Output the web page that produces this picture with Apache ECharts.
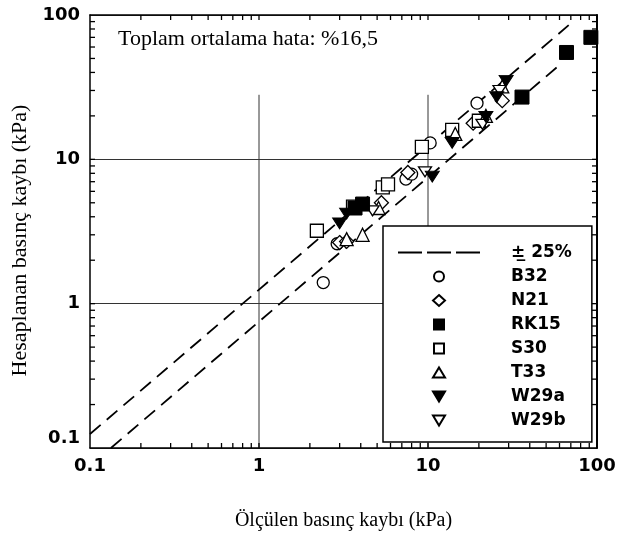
<!DOCTYPE html>
<html><head><meta charset="utf-8">
<script src="https://cdn.jsdelivr.net/npm/echarts@6/dist/echarts.min.js"></script>
<style>html,body{margin:0;padding:0;background:#fff}#c{width:621px;height:545px}</style>
</head><body><div id="c"></div>
<script>
// ---- data (measured kPa, calculated kPa) ----
var B32  = [[2.4,1.4],[2.9,2.6],[7.4,7.3],[8.0,7.9],[10.3,13.0],[19.5,24.5]];
var N21  = [[3.0,2.65],[3.3,2.7],[5.3,5.0],[7.6,8.1],[18.5,17.8],[27.5,25.5]];
var RK15 = [[3.7,4.6],[4.1,4.9],[36,27],[66,55],[92,70]];
var S30  = [[2.2,3.2],[3.6,4.7],[5.4,6.4],[5.8,6.7],[9.2,12.2],[13.9,16.0],[20,18.5]];
var T33  = [[3.3,2.8],[4.1,3.0],[5.1,4.6],[14.5,15.0],[22,20],[27.5,32]];
var W29a = [[3.0,3.6],[3.3,4.2],[10.6,7.6],[13.9,13.0],[22,19.7],[25.5,27],[29,35]];
var W29b = [[4.7,4.4],[9.6,8.2],[21,17.5],[26.5,30]];
var bandUpper = [[0.1,0.125],[68,85]];   // +25 %
var bandLower = [[0.133,0.1],[58,43.5]]; // -25 %
var gridV1 = [[1,0.1],[1,28]];
var gridV10 = [[10,0.1],[10,28]];
var tickLabels = ['0.1','1','10','100'];
var minorTickVals = [0.2,0.3,0.4,0.5,0.6,0.7,0.8,0.9,2,3,4,5,6,7,8,9,20,30,40,50,60,70,80,90];
var majorTickVals = [1,10];
var axisMin = 0.1, axisMax = 100;
var noteText = 'Toplam ortalama hata: %16,5';
var xTitle = 'Ölçülen basınç kaybı (kPa)';
var yTitle = 'Hesaplanan basınç kaybı (kPa)';
var bandName = '\u00B1\u0332 25%';

var chart = echarts.init(document.getElementById('c'), null, {renderer:'canvas'});
var labelFont = {fontFamily:'DejaVu Sans', fontWeight:'bold', fontSize:18, color:'#000'};
function openSym(name, symbol, data, size){
  return {name:name, type:'scatter', data:data, symbol:symbol, symbolSize:size, symbolKeepAspect:true,
    itemStyle:{color:'#fff', borderColor:'#000', borderWidth:1.3, opacity:1}, z:5};
}
function fillSym(name, symbol, data, size){
  return {name:name, type:'scatter', data:data, symbol:symbol, symbolSize:size, symbolKeepAspect:true,
    itemStyle:{color:'#000', borderColor:'#000', borderWidth:1, opacity:1}, z:6};
}
var downTri = 'path://M0,0L10,0L5,9Z';
// legend icons: bounding box forced to 82x11 so that they are not stretched
var box = 'M0,0M82,11';
var icons = {
  band:   'path://' + box + 'M0,4.5L24,4.5L24,6.5L0,6.5Z M29,4.5L53,4.5L53,6.5L29,6.5Z M58,4.5L82,4.5L82,6.5L58,6.5Z',
  circle: 'path://' + box + 'M36,5.5A5,5 0 1 1 46,5.5A5,5 0 1 1 36,5.5Z',
  diamond:'path://' + box + 'M41,0L47,5.5L41,11L35,5.5Z',
  rect:   'path://' + box + 'M36,0.5L46,0.5L46,10.5L36,10.5Z',
  tri:    'path://' + box + 'M41,0.5L47,10.5L35,10.5Z',
  dtri:   'path://' + box + 'M35,0.5L47,0.5L41,10.5Z'
};
function tickSer(data, size, offset){
  return {type:'scatter', silent:true, data:data, symbol:'rect', symbolSize:size, symbolOffset:offset,
    itemStyle:{color:'#000', opacity:1}, z:3, clip:false};
}
var allTicks = minorTickVals.concat(majorTickVals);
var bottomTicks = allTicks.map(function(v){return [v, axisMin];});
var topTicks    = allTicks.map(function(v){return [v, axisMax];});
var leftTicks   = allTicks.map(function(v){return [axisMin, v];});
var rightTicks  = allTicks.map(function(v){return [axisMax, v];});
function labelFor(v){ return tickLabels[Math.round(Math.log10(v))+1]; }
var option = {
  backgroundColor:'#fff',
  animation:false,
  grid:{left:90, top:15, right:24, bottom:97},
  xAxis:[{type:'log', min:axisMin, max:axisMax, logBase:10,
    axisLine:{show:true, onZero:false, lineStyle:{color:'#000', width:1.5}},
    axisTick:{show:false}, splitLine:{show:false},
    axisLabel:Object.assign({margin:9, formatter:labelFor}, labelFont),
    name:xTitle, nameLocation:'middle', nameGap:63,
    nameTextStyle:{fontFamily:'Liberation Serif', fontSize:20, color:'#000'}
  },{type:'log', min:axisMin, max:axisMax, position:'top',
    axisLine:{show:true, onZero:false, lineStyle:{color:'#000', width:1.5}},
    axisTick:{show:false}, axisLabel:{show:false}, splitLine:{show:false}}],
  yAxis:[{type:'log', min:axisMin, max:axisMax, logBase:10,
    axisLine:{show:true, onZero:false, lineStyle:{color:'#000', width:1.5}},
    axisTick:{show:false},
    splitLine:{show:true, lineStyle:{color:'#333', width:1}},
    axisLabel:Object.assign({margin:10, formatter:function(v){
        var s = labelFor(v);
        return s === '0.1' ? '{lo|' + s + '}' : s;},
      rich:{lo:{fontFamily:'DejaVu Sans', fontWeight:'bold', fontSize:18, color:'#000', padding:[0,0,20,0]}}}, labelFont),
    name:yTitle, nameLocation:'middle', nameGap:58,
    nameTextStyle:{fontFamily:'Liberation Serif', fontSize:22, color:'#000', padding:[0,18,0,0]}
  },{type:'log', min:axisMin, max:axisMax, position:'right',
    axisLine:{show:true, onZero:false, lineStyle:{color:'#000', width:2}},
    axisTick:{show:false}, axisLabel:{show:false}, splitLine:{show:false}}],
  legend:{
    left:383, top:226, orient:'vertical', itemWidth:82, itemHeight:11, itemGap:7,
    padding:[18,20,13,14], backgroundColor:'#fff', borderColor:'#000', borderWidth:1.5,
    selectedMode:false,
    data:[{name:bandName, icon:icons.band},{name:'B32', icon:icons.circle},{name:'N21', icon:icons.diamond},
          {name:'RK15', icon:icons.rect},{name:'S30', icon:icons.rect},{name:'T33', icon:icons.tri},
          {name:'W29a', icon:icons.dtri},{name:'W29b', icon:icons.dtri}],
    textStyle:{fontFamily:'DejaVu Sans', fontWeight:'bold', fontSize:17, color:'#000', padding:[0,0,0,26]}
  },
  graphic:[{type:'text', left:118, top:28, style:{text:noteText, font:'22px "Liberation Serif"', fill:'#000'}}],
  series:[
    tickSer(bottomTicks, [1.3,5], [0,-2.5]),
    tickSer(topTicks, [1.3,5], [0,2.5]),
    tickSer(leftTicks, [5,1.3], [2.5,0]),
    tickSer(rightTicks, [5,1.3], [-2.5,0]),
    {type:'line', data:gridV1, symbol:'none', silent:true, lineStyle:{color:'#333', width:1}, z:1},
    {type:'line', data:gridV10, symbol:'none', silent:true, lineStyle:{color:'#333', width:1}, z:1},
    {name:bandName, type:'line', data:bandUpper, symbol:'none', lineStyle:{color:'#000', width:1.8, type:[14,8]}, itemStyle:{color:'#000'}, z:2},
    {name:bandName, type:'line', data:bandLower, symbol:'none', lineStyle:{color:'#000', width:1.8, type:[14,8]}, itemStyle:{color:'#000'}, z:2},
    openSym('B32','circle',B32,12),
    openSym('N21','diamond',N21,14),
    fillSym('RK15','rect',RK15,14),
    openSym('S30','rect',S30,13),
    openSym('T33','triangle',T33,13),
    fillSym('W29a',downTri,W29a,[14,12]),
    openSym('W29b',downTri,W29b,[13,11])
  ]
};
chart.setOption(option);
</script></body></html>
